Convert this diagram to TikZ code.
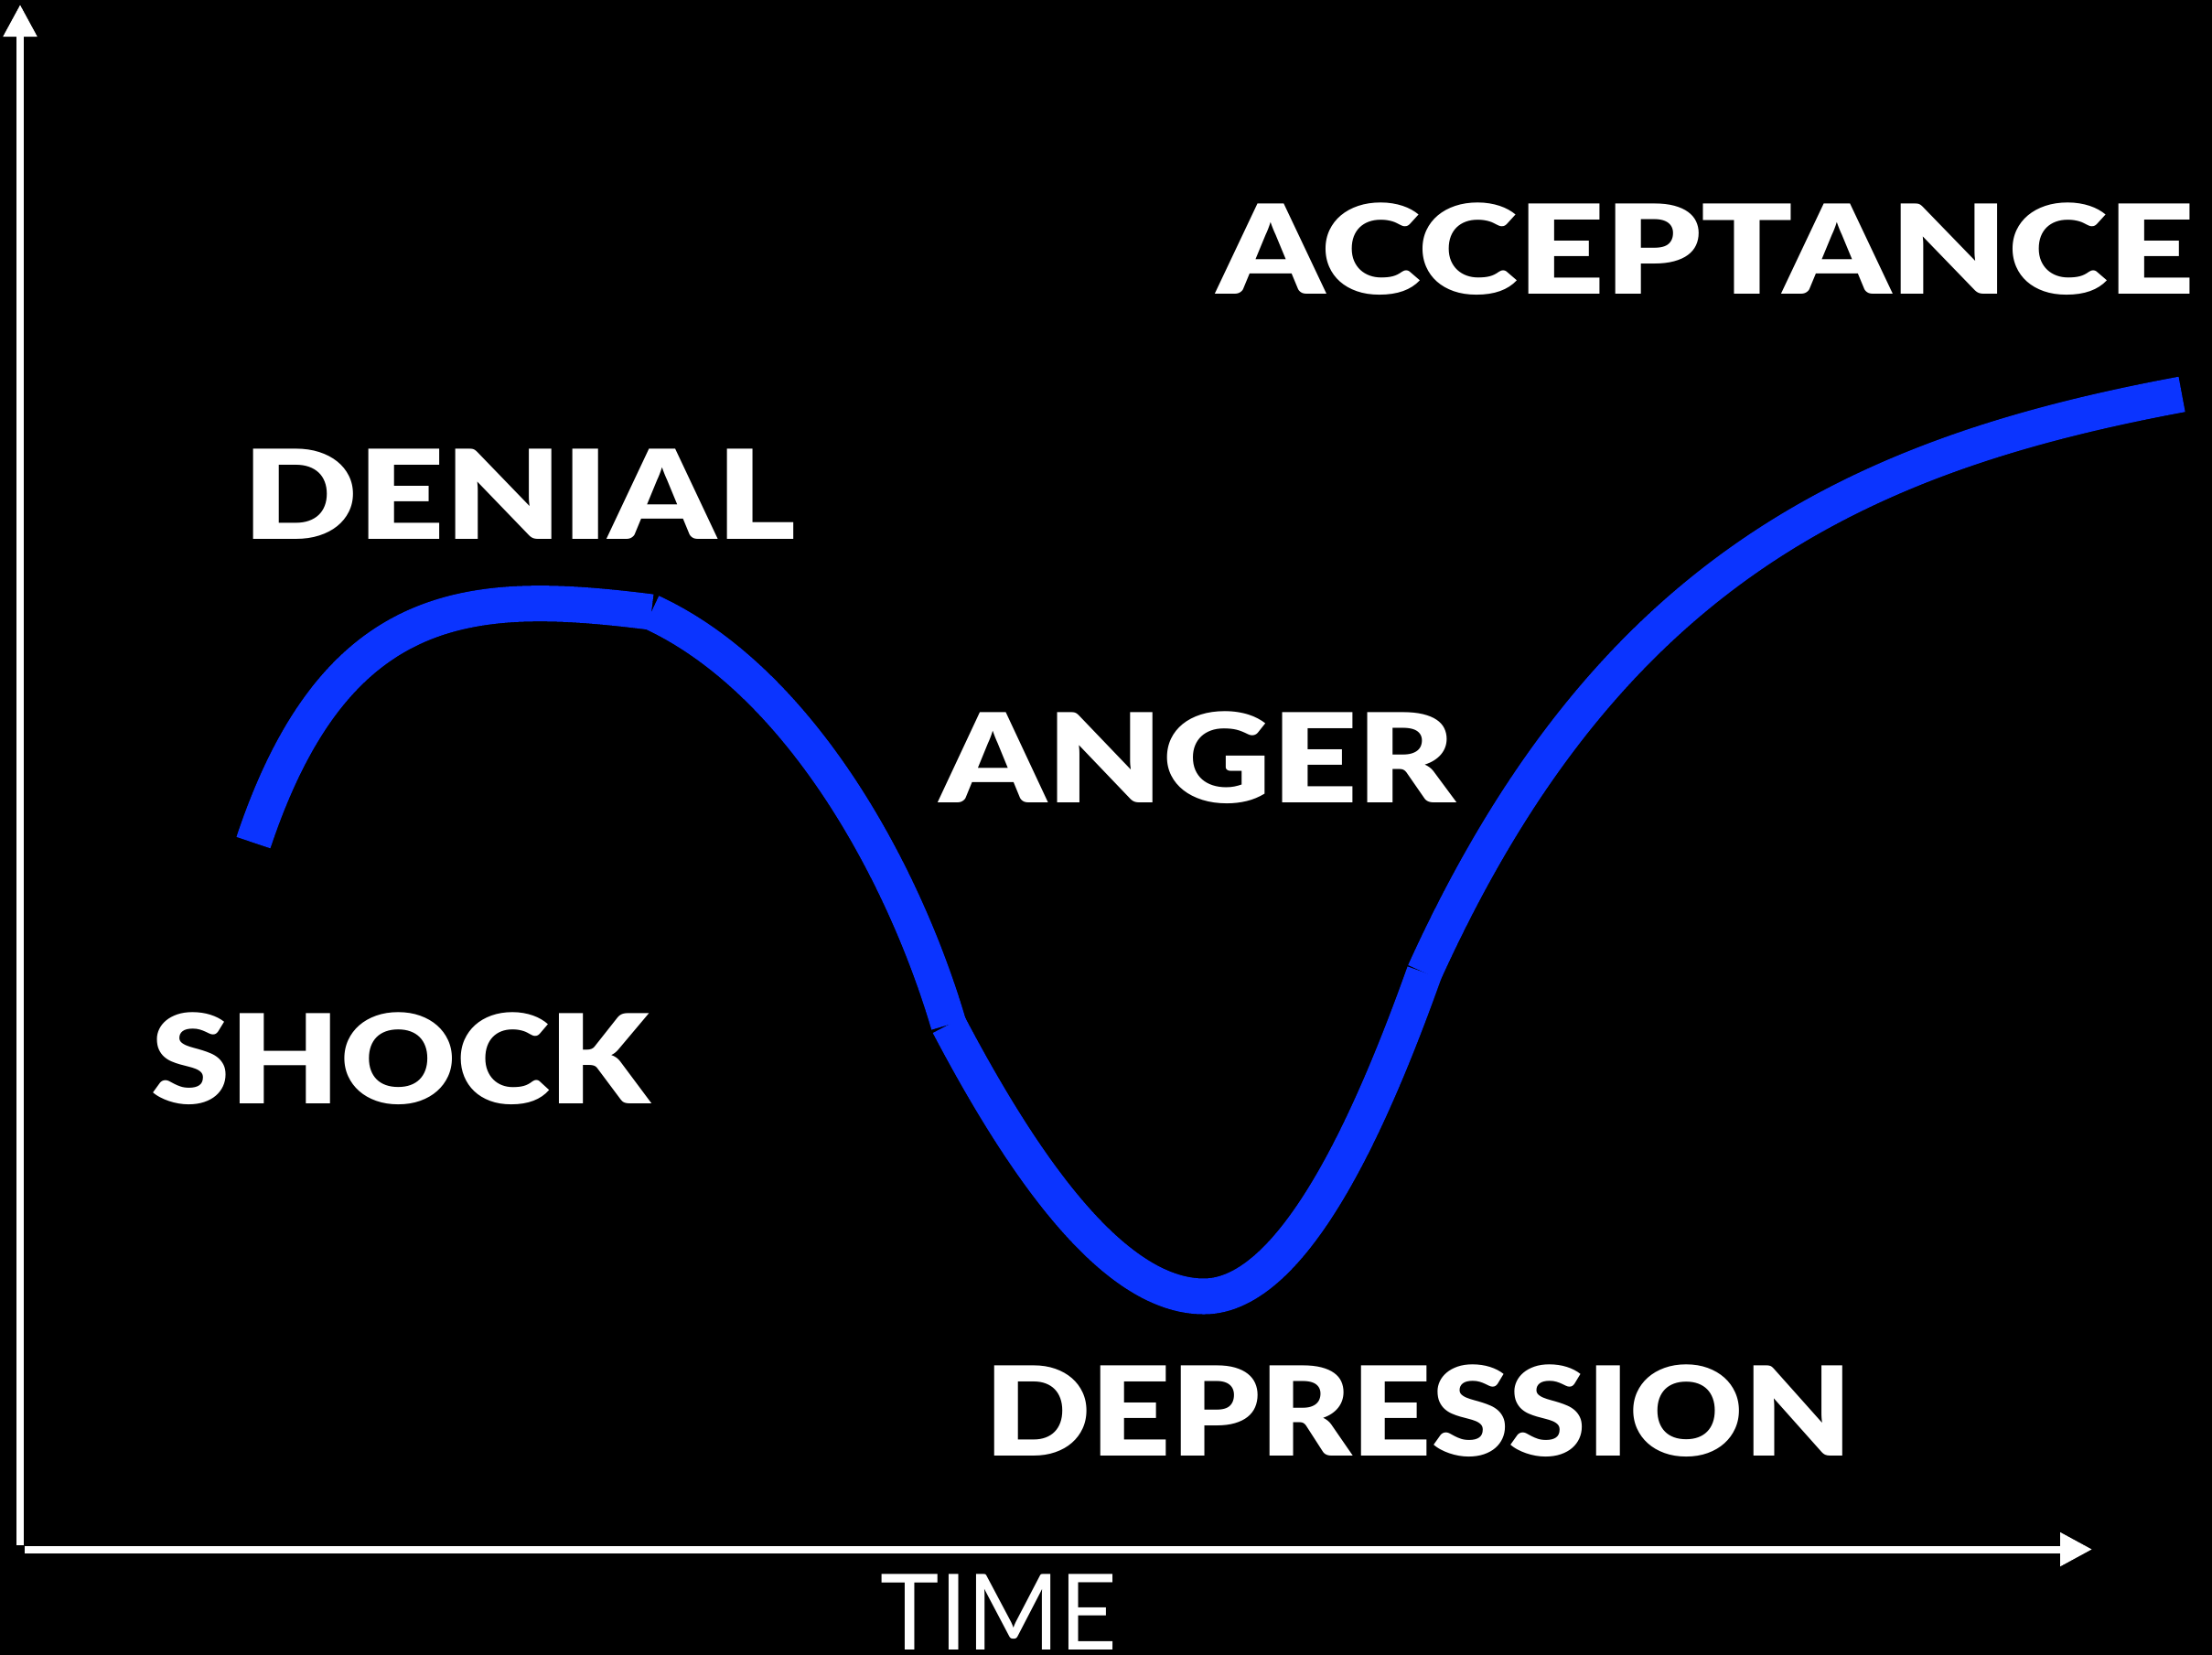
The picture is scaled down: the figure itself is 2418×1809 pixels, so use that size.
\documentclass[tikz,border=0pt]{standalone}
\usepackage{fontspec}
\setmainfont{Lato}
\newfontfamily\stagefont{Lato Black}
\usetikzlibrary{arrows.meta}

\definecolor{waveblue}{RGB}{11,52,255}

\tikzset{
  axisline/.style={draw=white, line width=0.08cm},
  axistip/.style={-{Triangle[width=0.35cm,length=0.35cm]}},
  wave/.style={draw=waveblue, line width=0.39cm},
  stage/.style={text=white, anchor=base west, inner sep=0pt, text depth=0pt,
    font=\fontsize{38.5}{40}\stagefont, xscale=#1, transform shape},
  stage/.default=1.22,
  timelabel/.style={text=white, anchor=base west, inner sep=0pt, text depth=0pt,
    font=\fontsize{32.8}{34}\selectfont, xscale=0.944, transform shape}
}

\begin{document}
\begin{tikzpicture}[x={(0.01cm,0)}, y={(0,-0.01cm)}]
  \fill[black] (0,0) rectangle (2418,1809);

  % axes
  \coordinate (origin) at (22,1689);
  \coordinate (ytop) at (22,5);
  \coordinate (xstart) at (27,1693.5);
  \coordinate (xend) at (2287,1693.5);
  \draw[axisline, axistip] (origin) -- (ytop);
  \draw[axisline, axistip] (xstart) -- (xend);
  \node[timelabel] (time) at (962,1803) {TIME};

  % curve, four pieces
  \coordinate (c0) at (277,921);
  \coordinate (c1) at (712,669);
  \coordinate (c2) at (1037,1120);
  \coordinate (c3) at (1316,1417);
  \coordinate (c4) at (1557,1063);
  \coordinate (c5) at (2385,431);
  \draw[wave] (c0) .. controls (368,648) and (520,645) .. (c1);
  \draw[wave] (c1) .. controls (872,743) and (987,950) .. (c2);
  \draw[wave] (c2) .. controls (1117,1272) and (1216,1417) .. (c3)
                   .. controls (1416,1417) and (1502,1217) .. (c4);
  \draw[wave] (c4) .. controls (1757,622) and (2035,496) .. (c5);

  % labels
  \node[stage=1.147] (shock) at (165,1206) {SHOCK};
  \node[stage=1.22] (denial) at (265,589) {DENIAL};
  \node[stage=1.21] (anger) at (1027,877) {ANGER};
  \node[stage=1.127] (depression) at (1076,1591) {DEPRESSION};
  \node[stage=1.224] (acceptance) at (1330,321) {ACCEPTANCE};
\end{tikzpicture}
\end{document}
